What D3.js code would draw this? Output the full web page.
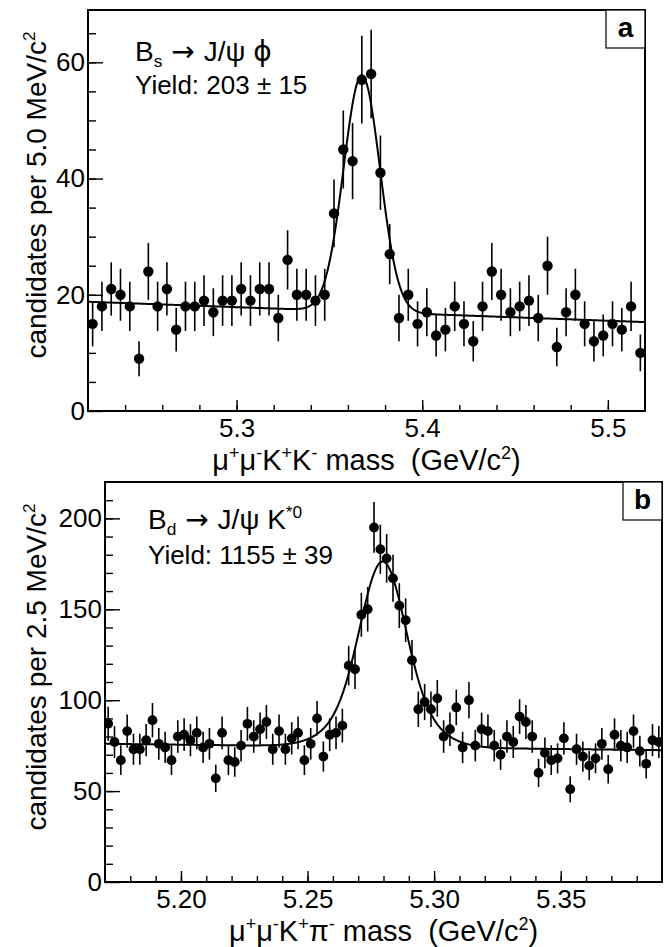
<!DOCTYPE html>
<html>
<head>
<meta charset="utf-8">
<script src="https://cdn.jsdelivr.net/npm/d3@7"></script>
<style>
  body { margin: 0; background: #fff; }
  svg { display: block; }
  text { font-family: 'Liberation Sans', Arial, Helvetica, sans-serif; fill: #000; }
</style>
</head>
<body>
<div id="container"></div>
<script>
/* global d3 */

// ---- panel a : Bs -> J/psi phi, 5 MeV bins from 5.22 GeV
const binLoA = 5.22;
const binWidthA = 0.005;
const countsA = [15, 18, 21, 20, 18, 9, 24, 18, 21, 14,
  18, 18, 19, 17, 19, 19, 21, 19, 21, 21,
  16, 26, 20, 20, 19, 20, 34, 45, 43, 57,
  58, 41, 27, 16, 20, 15, 17, 13, 14, 18,
  15, 12, 18, 24, 20, 17, 18, 19, 16, 25,
  11, 17, 20, 15, 12, 13, 15, 14, 18, 10];
const xDomainA = [5.22, 5.52];
const yDomainA = [0, 69];
const xTicksA = [5.3, 5.4, 5.5];
const yTicksA = [0, 20, 40, 60];
// fit: gaussian(s) on a linear background (bg value at both ends of the range)
const fitMeanA = 5.3675;
const fitAmpsA = [40.7];
const fitSigmasA = [0.0098];
const fitBgA = [18.8, 15.3];

// ---- panel b : Bd -> J/psi K*0, 2.5 MeV bins from 5.17 GeV
const binLoB = 5.17;
const binWidthB = 0.0025;
const countsB = [87, 77, 67, 83, 73, 73, 78, 89, 76, 74,
  67, 80, 81, 78, 82, 74, 76, 57, 82, 67,
  66, 75, 87, 80, 84, 88, 73, 83, 73, 79,
  82, 67, 76, 90, 69, 81, 82, 86, 119, 117,
  147, 150, 195, 183, 178, 167, 152, 144, 122, 95,
  99, 95, 101, 80, 84, 96, 74, 100, 75, 84,
  83, 75, 70, 80, 77, 91, 88, 80, 60, 71,
  67, 68, 79, 51, 73, 69, 64, 68, 76, 62,
  81, 75, 74, 83, 72, 65, 78, 77];
const xDomainB = [5.17, 5.39];
const yDomainB = [0, 220];
const xTicksB = [5.20, 5.25, 5.30, 5.35];
const yTicksB = [0, 50, 100, 150, 200];
const fitMeanB = 5.2797;
const fitAmpsB = [72, 30];
const fitSigmasB = [0.0085, 0.0145];
const fitBgB = [76, 72.5];

const width = 670; const height = 947;
const svg = d3.select('#container').append('svg')
    .attr('width', width).attr('height', height);

// text with sub/superscript pieces: parts = [[string, 'sup'|'sub'|'sym'|undefined], ...]
const richText = (g, x, y, size, parts) => {
  const t = g.append('text').attr('x', x).attr('y', y)
      .attr('font-size', size).style('white-space', 'pre');
  let shift = 0;
  parts.forEach(([s, mode]) => {
    const target = mode === 'sup' ? -0.38 * size : mode === 'sub' ? 0.2 * size : 0;
    const small = mode === 'sup' || mode === 'sub';
    const ts = t.append('tspan')
        .attr('dy', target - shift)
        .attr('font-size', small ? size * 0.62 : size)
        .text(s);
    if (mode === 'sym') ts.style('font-family', '\'DejaVu Sans\', sans-serif');
    shift = target;
  });
  return t;
};

const drawPanel = (p) => {
  const g = svg.append('g');
  const x = d3.scaleLinear().domain(p.xDomain).range([p.left, p.right]);
  const y = d3.scaleLinear().domain(p.yDomain).range([p.bottom, p.top]);

  const clipId = 'clip-' + p.name;
  svg.append('clipPath').attr('id', clipId).append('rect')
      .attr('x', p.left).attr('y', p.top)
      .attr('width', p.right - p.left).attr('height', p.bottom - p.top);

  // minor ticks
  g.append('g').attr('transform', 'translate(0,' + p.bottom + ')')
      .call(d3.axisBottom(x).tickValues(p.xMinor).tickSize(-6).tickFormat(''))
      .call((a) => a.select('.domain').remove());
  g.append('g').attr('transform', 'translate(' + p.left + ',0)')
      .call(d3.axisLeft(y).tickValues(p.yMinor).tickSize(-8).tickFormat(''))
      .call((a) => a.select('.domain').remove());

  // major ticks + labels
  const xa = g.append('g').attr('transform', 'translate(0,' + p.bottom + ')')
      .call(d3.axisBottom(x).tickValues(p.xTicks).tickSize(-11).tickSizeOuter(0)
          .tickPadding(8).tickFormat(d3.format(p.xFormat)));
  const ya = g.append('g').attr('transform', 'translate(' + p.left + ',0)')
      .call(d3.axisLeft(y).tickValues(p.yTicks).tickSize(-15).tickSizeOuter(0)
          .tickPadding(3).tickFormat(d3.format('d')));
  [xa, ya].forEach((a) => {
    a.attr('font-family', null).attr('font-size', 26);
    a.selectAll('.domain').remove();
  });
  g.selectAll('.tick line').attr('stroke', '#000').attr('stroke-width', 1.4);

  // frame
  g.append('rect').attr('x', p.left).attr('y', p.top)
      .attr('width', p.right - p.left).attr('height', p.bottom - p.top)
      .attr('fill', 'none').attr('stroke', '#000').attr('stroke-width', 2);

  // fit curve
  const bg = d3.scaleLinear().domain(p.xDomain).range(p.fitBg);
  const fit = (m) => bg(m) + d3.sum(p.fitAmps, (a, i) =>
    a * Math.exp(-((m - p.fitMean) ** 2) / (2 * p.fitSigmas[i] ** 2)));
  const grid = x.ticks(800);
  g.append('path').datum(grid)
      .attr('clip-path', 'url(#' + clipId + ')')
      .attr('fill', 'none').attr('stroke', '#000').attr('stroke-width', 2)
      .attr('d', d3.line().x((m) => x(m)).y((m) => y(fit(m))));

  // data points with poisson errors
  const pts = p.counts.map((c, i) => ({m: p.binLo + (i + 0.5) * p.binWidth, n: c}));
  const dots = g.append('g').attr('clip-path', 'url(#' + clipId + ')');
  dots.selectAll('line').data(pts).enter().append('line')
      .attr('x1', (d) => x(d.m)).attr('x2', (d) => x(d.m))
      .attr('y1', (d) => y(d.n - Math.sqrt(d.n)))
      .attr('y2', (d) => y(d.n + Math.sqrt(d.n)))
      .attr('stroke', '#000').attr('stroke-width', 1.6);
  dots.selectAll('circle').data(pts).enter().append('circle')
      .attr('cx', (d) => x(d.m)).attr('cy', (d) => y(d.n))
      .attr('r', p.r).attr('fill', '#000');

  // axis titles
  richText(g, (p.left + p.right) / 2, p.bottom + 59, 29, p.xTitle)
      .attr('text-anchor', 'middle');
  richText(g, 0, 0, 28, p.yTitle)
      .attr('text-anchor', 'middle')
      .attr('transform', 'translate(46,' + (p.top + 185) + ') rotate(-90)');

  // decay label and yield
  richText(g, p.left + p.labelDx, p.top + p.labelDy[0], 28, p.decay);
  g.append('text').attr('x', p.left + p.labelDx).attr('y', p.top + p.labelDy[1])
      .attr('font-size', 26).style('white-space', 'pre').text(p.yieldText);

  // panel letter box
  const bw = 39; const bh = 38;
  g.append('rect').attr('x', p.right - bw).attr('y', p.top)
      .attr('width', bw).attr('height', bh)
      .attr('fill', '#fff').attr('stroke', '#000').attr('stroke-width', 1.2);
  g.append('text').attr('x', p.right - bw / 2).attr('y', p.top + 27)
      .attr('text-anchor', 'middle').attr('font-size', 28).attr('font-weight', 'bold')
      .text(p.name);
};

drawPanel({
  name: 'a', left: 88, right: 645, top: 10, bottom: 411, r: 5.2,
  xDomain: xDomainA, yDomain: yDomainA,
  xTicks: xTicksA, yTicks: yTicksA, xFormat: '.1f',
  xMinor: d3.range(5.24, 5.52, 0.02), yMinor: d3.range(5, 69, 5),
  binLo: binLoA, binWidth: binWidthA, counts: countsA,
  fitMean: fitMeanA, fitAmps: fitAmpsA, fitSigmas: fitSigmasA, fitBg: fitBgA,
  xTitle: [['μ'], ['+', 'sup'], ['μ'], ['-', 'sup'], ['K'], ['+', 'sup'], ['K'], ['-', 'sup'],
    [' mass  (GeV/c'], ['2', 'sup'], [')']],
  yTitle: [['candidates per 5.0 MeV/c'], ['2', 'sup']],
  decay: [['B'], ['s', 'sub'], [' → ', 'sym'], ['J/ψ '], ['ϕ', 'sym']],
  yieldText: 'Yield: 203 ± 15',
  labelDx: 47, labelDy: [51, 84],
});

drawPanel({
  name: 'b', left: 105, right: 662, top: 482, bottom: 882, r: 4.9,
  xDomain: xDomainB, yDomain: yDomainB,
  xTicks: xTicksB, yTicks: yTicksB, xFormat: '.2f',
  xMinor: d3.range(5.18, 5.39, 0.01), yMinor: d3.range(10, 220, 10),
  binLo: binLoB, binWidth: binWidthB, counts: countsB,
  fitMean: fitMeanB, fitAmps: fitAmpsB, fitSigmas: fitSigmasB, fitBg: fitBgB,
  xTitle: [['μ'], ['+', 'sup'], ['μ'], ['-', 'sup'], ['K'], ['+', 'sup'], ['π'], ['-', 'sup'],
    [' mass  (GeV/c'], ['2', 'sup'], [')']],
  yTitle: [['candidates per 2.5 MeV/c'], ['2', 'sup']],
  decay: [['B'], ['d', 'sub'], [' → ', 'sym'], ['J/ψ K'], ['*0', 'sup']],
  yieldText: 'Yield: 1155 ± 39',
  labelDx: 43, labelDy: [47, 82],
});
</script>
</body>
</html>
